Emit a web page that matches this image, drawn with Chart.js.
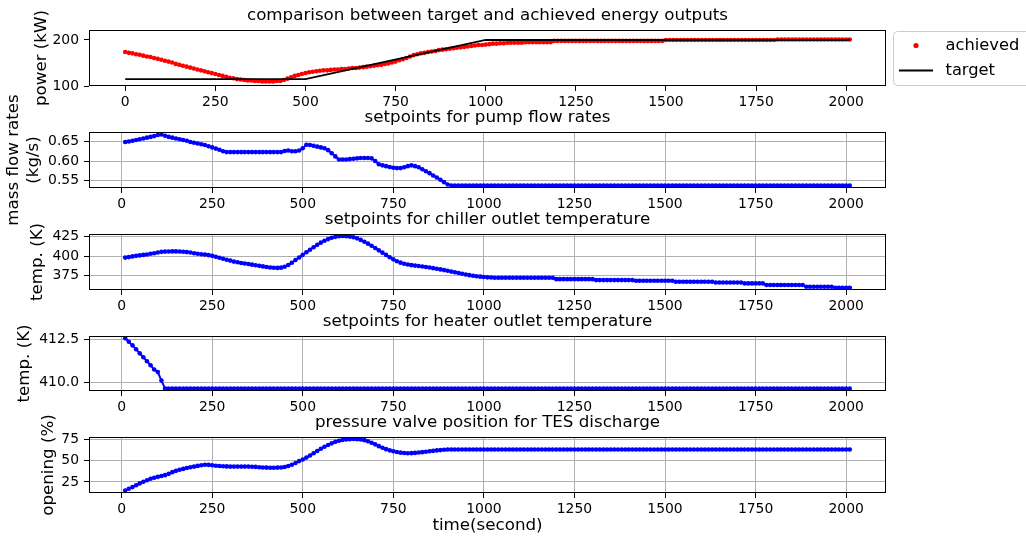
<!DOCTYPE html>
<html>
<head>
<meta charset="utf-8">
<script src="https://cdn.jsdelivr.net/npm/chart.js@4.4.0/dist/chart.umd.min.js"></script>
<style>
html,body{margin:0;padding:0;background:#ffffff;}
#wrap{position:relative;width:1026px;height:537px;overflow:hidden;background:#ffffff;}
#wrap canvas{position:absolute;left:0;top:0;}
</style>
</head>
<body>
<div id="wrap">
<canvas id="c1" width="1026" height="537"></canvas>
<canvas id="c2" width="1026" height="537"></canvas>
<canvas id="c3" width="1026" height="537"></canvas>
<canvas id="c4" width="1026" height="537"></canvas>
<canvas id="c5" width="1026" height="537"></canvas>
</div>
<script>
// ---------------- DATA ----------------
const timeAchieved = [
0,10,20,30,40,50,60,70,80,90,
100,110,120,130,140,150,160,170,180,190,
200,210,220,230,240,250,260,270,280,290,
300,310,320,330,340,350,360,370,380,390,
400,410,420,430,440,450,460,470,480,490,
500,510,520,530,540,550,560,570,580,590,
600,610,620,630,640,650,660,670,680,690,
700,710,720,730,740,750,760,770,780,790,
800,810,820,830,840,850,860,870,880,890,
900,910,920,930,940,950,960,970,980,990,
1000,1010,1020,1030,1040,1050,1060,1070,1080,1090,
1100,1110,1120,1130,1140,1150,1160,1170,1180,1190,
1200,1210,1220,1230,1240,1250,1260,1270,1280,1290,
1300,1310,1320,1330,1340,1350,1360,1370,1380,1390,
1400,1410,1420,1430,1440,1450,1460,1470,1480,1490,
1500,1510,1520,1530,1540,1550,1560,1570,1580,1590,
1600,1610,1620,1630,1640,1650,1660,1670,1680,1690,
1700,1710,1720,1730,1740,1750,1760,1770,1780,1790,
1800,1810,1820,1830,1840,1850,1860,1870,1880,1890,
1900,1910,1920,1930,1940,1950,1960,1970,1980,1990,
2000,2010];

const achievedPower = [
174,172,171,169,168,166,164,163,161,159,
157,155,153,151,148,146,144,142,140,138,
136,134,132,130,128,126,124,122,120,118,
117,115,114,113,112,112,111,111,110,110,
110,110,111,111,113,116,119,122,124,126,
128,130,131,132,133,134,134,135,136,136,
137,137,138,139,139,140,141,142,143,144,
145,146,148,149,151,153,156,158,161,164,
167,169,171,172,174,175,176,178,179,180,
181,182,183,184,185,186,187,188,189,189,
190,191,192,192,193,193,194,194,194,194,
194,195,195,195,195,195,195,195,195,198,
198,198,198,198,198,198,198,198,198,198,
198,198,198,198,198,198,198,198,198,198,
198,198,198,198,198,198,198,198,198,198,
200,200,200,200,200,200,200,200,200,200,
200,200,200,200,200,200,200,200,200,200,
200,200,200,200,200,200,200,200,200,200,
200,201,201,201,201,201,201,201,201,201,
201,201,201,201,201,201,201,201,201,201,
201,201];

const targetTime = [0, 500, 1000, 2010];
const targetPower = [115, 115, 200, 200];

const timeSetpoints = timeAchieved.slice(1);

const massFlow = [
0.649,0.650,0.652,0.654,0.656,0.658,0.660,0.662,0.664,0.667,
0.668,0.665,0.662,0.660,0.658,0.656,0.654,0.652,0.649,0.647,
0.645,0.643,0.641,0.638,0.635,0.632,0.629,0.625,0.623,0.623,
0.623,0.623,0.623,0.623,0.623,0.623,0.623,0.623,0.623,0.623,
0.623,0.623,0.623,0.623,0.626,0.627,0.625,0.625,0.627,0.633,
0.642,0.641,0.639,0.637,0.635,0.633,0.628,0.620,0.612,0.604,
0.604,0.604,0.605,0.606,0.607,0.608,0.608,0.608,0.607,0.600,
0.592,0.589,0.587,0.585,0.583,0.582,0.582,0.584,0.587,0.589,
0.587,0.584,0.579,0.574,0.569,0.563,0.558,0.552,0.546,0.540,
0.5375,0.5375,0.5375,0.5375,0.5375,0.5375,0.5375,0.5375,0.5375,0.5375,
0.5375,0.5375,0.5375,0.5375,0.5375,0.5375,0.5375,0.5375,0.5375,0.5375,
0.5375,0.5375,0.5375,0.5375,0.5375,0.5375,0.5375,0.5375,0.5375,0.5375,
0.5375,0.5375,0.5375,0.5375,0.5375,0.5375,0.5375,0.5375,0.5375,0.5375,
0.5375,0.5375,0.5375,0.5375,0.5375,0.5375,0.5375,0.5375,0.5375,0.5375,
0.5375,0.5375,0.5375,0.5375,0.5375,0.5375,0.5375,0.5375,0.5375,0.5375,
0.5375,0.5375,0.5375,0.5375,0.5375,0.5375,0.5375,0.5375,0.5375,0.5375,
0.5375,0.5375,0.5375,0.5375,0.5375,0.5375,0.5375,0.5375,0.5375,0.5375,
0.5375,0.5375,0.5375,0.5375,0.5375,0.5375,0.5375,0.5375,0.5375,0.5375,
0.5375,0.5375,0.5375,0.5375,0.5375,0.5375,0.5375,0.5375,0.5375,0.5375,
0.5375,0.5375,0.5375,0.5375,0.5375,0.5375,0.5375,0.5375,0.5375,0.5375,
0.5375];

const chillerTemp = [
398.0,398.6,399.5,400.2,400.8,401.4,402.0,402.8,403.6,404.5,
405.3,405.6,405.8,405.9,405.9,405.8,405.4,405.0,404.4,403.5,
402.9,402.3,401.8,401.2,400.2,399.1,397.8,396.5,395.2,394.2,
392.9,392.0,391.2,390.5,389.8,389.0,388.3,387.5,386.8,386.1,
385.4,385.0,384.9,385.2,386.4,388.5,391.5,395.0,398.2,401.5,
404.8,408.0,411.2,414.2,417.0,419.4,421.5,423.2,424.4,425.1,
425.4,425.2,424.7,423.8,422.5,420.5,418.2,415.7,413.0,410.2,
407.2,404.3,401.4,398.5,395.8,393.4,391.6,390.2,389.2,388.4,
387.8,387.3,386.7,386.1,385.4,384.6,383.8,383.0,382.1,381.2,
380.2,379.3,378.4,377.5,376.6,375.7,375.0,374.3,373.8,373.3,
372.9,372.6,372.4,372.3,372.3,372.3,372.3,372.3,372.3,372.3,
372.3,372.3,372.3,372.3,372.3,372.3,372.3,372.3,372.3,370.6,
370.6,370.6,370.6,370.6,370.6,370.6,370.6,370.6,370.6,370.6,
369.4,369.4,369.4,369.4,369.4,369.4,369.4,369.4,369.4,369.4,
369.4,368.5,368.5,368.5,368.5,368.5,368.5,368.5,368.5,368.5,
368.5,368.5,367.2,367.2,367.2,367.2,367.2,367.2,367.2,367.2,
367.2,367.2,367.2,366.4,366.4,366.4,366.4,366.4,366.4,366.4,
366.4,365.2,365.2,365.2,365.2,365.2,365.2,363.1,363.1,363.1,
363.1,363.1,363.1,363.1,363.1,363.1,363.1,363.1,361.0,361.0,
361.0,361.0,361.0,361.0,361.0,361.0,359.7,359.7,359.7,359.7,
359.7];

const heaterTemp = [
412.59,412.38,412.17,411.94,411.70,411.47,411.24,411.00,410.75,410.60,
410.10,409.63,409.63,409.63,409.63,409.63,409.63,409.63,409.63,409.63,
409.63,409.63,409.63,409.63,409.63,409.63,409.63,409.63,409.63,409.63,
409.63,409.63,409.63,409.63,409.63,409.63,409.63,409.63,409.63,409.63,
409.63,409.63,409.63,409.63,409.63,409.63,409.63,409.63,409.63,409.63,
409.63,409.63,409.63,409.63,409.63,409.63,409.63,409.63,409.63,409.63,
409.63,409.63,409.63,409.63,409.63,409.63,409.63,409.63,409.63,409.63,
409.63,409.63,409.63,409.63,409.63,409.63,409.63,409.63,409.63,409.63,
409.63,409.63,409.63,409.63,409.63,409.63,409.63,409.63,409.63,409.63,
409.63,409.63,409.63,409.63,409.63,409.63,409.63,409.63,409.63,409.63,
409.63,409.63,409.63,409.63,409.63,409.63,409.63,409.63,409.63,409.63,
409.63,409.63,409.63,409.63,409.63,409.63,409.63,409.63,409.63,409.63,
409.63,409.63,409.63,409.63,409.63,409.63,409.63,409.63,409.63,409.63,
409.63,409.63,409.63,409.63,409.63,409.63,409.63,409.63,409.63,409.63,
409.63,409.63,409.63,409.63,409.63,409.63,409.63,409.63,409.63,409.63,
409.63,409.63,409.63,409.63,409.63,409.63,409.63,409.63,409.63,409.63,
409.63,409.63,409.63,409.63,409.63,409.63,409.63,409.63,409.63,409.63,
409.63,409.63,409.63,409.63,409.63,409.63,409.63,409.63,409.63,409.63,
409.63,409.63,409.63,409.63,409.63,409.63,409.63,409.63,409.63,409.63,
409.63,409.63,409.63,409.63,409.63,409.63,409.63,409.63,409.63,409.63,
409.63];

const valveOpening = [
15.1,17.0,19.0,21.2,23.3,25.2,27.0,28.8,30.0,31.0,
32.0,33.0,34.5,36.5,38.0,39.3,40.3,41.3,42.2,43.0,
43.8,44.6,45.2,45.0,44.5,44.0,43.7,43.4,43.2,43.0,
43.0,43.0,43.0,43.0,43.0,42.8,42.6,42.3,42.0,41.8,
41.7,41.7,41.8,42.0,42.5,43.6,45.2,47.2,49.4,51.3,
53.5,56.0,58.6,61.3,63.8,66.2,68.3,70.2,71.9,73.2,
74.2,74.8,75.1,75.2,75.1,74.7,73.9,72.6,70.9,69.0,
66.9,65.0,63.4,62.0,60.9,60.0,59.3,58.8,58.6,58.7,
59.0,59.4,59.9,60.4,60.9,61.4,61.9,62.3,62.7,63.0,
63.0,63.0,63.0,63.0,63.0,63.0,63.0,63.0,63.0,63.0,
63.0,63.0,63.0,63.0,63.0,63.0,63.0,63.0,63.0,63.0,
63.0,63.0,63.0,63.0,63.0,63.0,63.0,63.0,63.0,63.0,
63.0,63.0,63.0,63.0,63.0,63.0,63.0,63.0,63.0,63.0,
63.0,63.0,63.0,63.0,63.0,63.0,63.0,63.0,63.0,63.0,
63.0,63.0,63.0,63.0,63.0,63.0,63.0,63.0,63.0,63.0,
63.0,63.0,63.0,63.0,63.0,63.0,63.0,63.0,63.0,63.0,
63.0,63.0,63.0,63.0,63.0,63.0,63.0,63.0,63.0,63.0,
63.0,63.0,63.0,63.0,63.0,63.0,63.0,63.0,63.0,63.0,
63.0,63.0,63.0,63.0,63.0,63.0,63.0,63.0,63.0,63.0,
63.0,63.0,63.0,63.0,63.0,63.0,63.0,63.0,63.0,63.0,
63.0];

const xTickValues = [0, 250, 500, 750, 1000, 1250, 1500, 1750, 2000];
const powerTicks = [100, 200];
const massFlowTicks = [0.55, 0.60, 0.65];
const chillerTicks = [375, 400, 425];
const heaterTicks = [410.0, 412.5];
const valveTicks = [25, 50, 75];

const titles = [
  'comparison between target and achieved energy outputs',
  'setpoints for pump flow rates',
  'setpoints for chiller outlet temperature',
  'setpoints for heater outlet temperature',
  'pressure valve position for TES discharge'
];

// ---------------- RENDERING ----------------
const FONT = "'DejaVu Sans', 'Liberation Sans', sans-serif";
const W = 1026, H = 537, PLOT_LEFT = 89, PLOT_RIGHT = 886, XH = 30;
Chart.defaults.font.family = FONT;
Chart.defaults.color = '#000';

const toXY = (xs, ys) => ys.map((y, i) => ({x: xs[i], y: y}));

const decor = {
  id: 'decor',
  afterDatasetsDraw(chart, args, o) {
    const ctx = chart.ctx, a = chart.chartArea;
    ctx.save();
    ctx.strokeStyle = '#000';
    ctx.lineWidth = 1;
    ctx.strokeRect(a.left + 0.5, a.top + 0.5, a.right - a.left - 1, a.bottom - a.top - 1);
    ctx.fillStyle = '#000';
    ctx.font = '16.7px ' + FONT;
    ctx.textAlign = 'center';
    ctx.textBaseline = 'alphabetic';
    ctx.fillText(o.title, (a.left + a.right) / 2, a.top - 10);
    // y label(s)
    const cy = (a.top + a.bottom) / 2;
    o.ylabels.forEach(l => {
      ctx.save();
      ctx.translate(l.x, cy);
      ctx.rotate(-Math.PI / 2);
      ctx.textAlign = 'center';
      ctx.textBaseline = 'middle';
      ctx.fillText(l.text, 0, 0);
      ctx.restore();
    });
    if (o.xlabel) {
      ctx.textAlign = 'center';
      ctx.textBaseline = 'alphabetic';
      ctx.fillText(o.xlabel, (a.left + a.right) / 2, 530);
    }
    if (o.legend) {
      const ds = chart.data.datasets;
      const bx = 893.5, by = 31.5, bw = 160, bh = 54, r = 4;
      ctx.beginPath();
      ctx.moveTo(bx + r, by);
      ctx.lineTo(bx + bw - r, by);
      ctx.arcTo(bx + bw, by, bx + bw, by + r, r);
      ctx.lineTo(bx + bw, by + bh - r);
      ctx.arcTo(bx + bw, by + bh, bx + bw - r, by + bh, r);
      ctx.lineTo(bx + r, by + bh);
      ctx.arcTo(bx, by + bh, bx, by + bh - r, r);
      ctx.lineTo(bx, by + r);
      ctx.arcTo(bx, by, bx + r, by, r);
      ctx.closePath();
      ctx.fillStyle = 'rgba(255,255,255,0.8)';
      ctx.fill();
      ctx.strokeStyle = '#cccccc';
      ctx.lineWidth = 1;
      ctx.stroke();
      const achieved = ds.find(d => d.label === 'achieved');
      const target = ds.find(d => d.label === 'target');
      // achieved marker
      ctx.fillStyle = achieved.pointBackgroundColor;
      ctx.beginPath();
      ctx.arc(916, 45.5, 2.6, 0, Math.PI * 2);
      ctx.fill();
      // target line
      ctx.strokeStyle = target.borderColor;
      ctx.lineWidth = target.borderWidth;
      ctx.beginPath();
      ctx.moveTo(899, 70.5);
      ctx.lineTo(933, 70.5);
      ctx.stroke();
      ctx.fillStyle = '#000';
      ctx.font = '16.3px ' + FONT;
      ctx.textAlign = 'left';
      ctx.textBaseline = 'middle';
      ctx.fillText(achieved.label, 945.5, 45.5);
      ctx.fillText(target.label, 945.5, 70.5);
    }
    ctx.restore();
  }
};

function makePanel(id, p) {
  return new Chart(document.getElementById(id), {
    type: 'line',
    data: {datasets: p.datasets},
    options: {
      responsive: false,
      animation: false,
      devicePixelRatio: 1,
      events: [],
      layout: {padding: {left: 0, right: W - PLOT_RIGHT, top: p.top, bottom: H - p.bottom - XH}},
      plugins: {
        legend: {display: false},
        tooltip: {enabled: false},
        decor: {title: p.title, ylabels: p.ylabels, xlabel: p.xlabel, legend: p.legend}
      },
      scales: {
        x: {
          type: 'linear', min: p.xmin, max: p.xmax,
          afterFit: s => { s.height = XH; },
          afterBuildTicks: s => { s.ticks = xTickValues.map(v => ({value: v})); },
          ticks: {font: {size: 13.9}, color: '#000', padding: 3, maxRotation: 0, autoSkip: false,
                  callback: v => String(v)},
          grid: {display: true, drawOnChartArea: p.grid, color: '#b0b0b0', lineWidth: 1,
                 tickLength: 5, tickColor: '#000', tickWidth: 1},
          border: {display: false}
        },
        y: {
          type: 'linear', min: p.ymin, max: p.ymax,
          afterFit: s => { s.width = PLOT_LEFT; },
          afterBuildTicks: s => { s.ticks = p.yticks.map(v => ({value: v})); },
          ticks: {font: {size: 13.9}, color: '#000', padding: 5, autoSkip: false,
                  callback: v => v.toFixed(p.dec)},
          grid: {display: true, drawOnChartArea: p.grid, color: '#b0b0b0', lineWidth: 1,
                 tickLength: 5, tickColor: '#000', tickWidth: 1},
          border: {display: false}
        }
      }
    },
    plugins: [decor]
  });
}

function blueSeries(label, values) {
  return {
    label: label,
    data: toXY(timeSetpoints, values),
    borderColor: '#0000ff', borderWidth: 2,
    pointRadius: 2.3, pointBackgroundColor: '#0000ff', pointBorderWidth: 0,
    pointHoverRadius: 0, tension: 0
  };
}

makePanel('c1', {
  top: 30, bottom: 86, xmin: -100.5, xmax: 2110.5, ymin: 100, ymax: 221.7,
  yticks: powerTicks, dec: 0, grid: false, title: titles[0], legend: true,
  ylabels: [{text: 'power (kW)', x: 42}],
  datasets: [
    {label: 'target', data: toXY(targetTime, targetPower), borderColor: '#000000', borderWidth: 1.8,
     pointRadius: 0, pointHoverRadius: 0, tension: 0},
    {label: 'achieved', data: toXY(timeAchieved, achievedPower), showLine: false,
     pointRadius: 2.3, pointBackgroundColor: '#ff0000', pointBorderColor: '#ff0000',
     pointBorderWidth: 0, pointHoverRadius: 0, borderColor: '#ff0000'}
  ]
});

makePanel('c2', {
  top: 132, bottom: 188, xmin: -90, xmax: 2110, ymin: 0.531, ymax: 0.6745,
  yticks: massFlowTicks, dec: 2, grid: true, title: titles[1],
  ylabels: [{text: 'mass flow rates', x: 14}, {text: '(kg/s)', x: 34}],
  datasets: [blueSeries('pump flow', massFlow)]
});

makePanel('c3', {
  top: 234, bottom: 290, xmin: -90, xmax: 2110, ymin: 356.8, ymax: 428,
  yticks: chillerTicks, dec: 0, grid: true, title: titles[2],
  ylabels: [{text: 'temp. (K)', x: 38}],
  datasets: [blueSeries('chiller', chillerTemp)]
});

makePanel('c4', {
  top: 336, bottom: 391, xmin: -90, xmax: 2110, ymin: 409.49, ymax: 412.72,
  yticks: heaterTicks, dec: 1, grid: true, title: titles[3],
  ylabels: [{text: 'temp. (K)', x: 25}],
  datasets: [blueSeries('heater', heaterTemp)]
});

makePanel('c5', {
  top: 437, bottom: 493, xmin: -90, xmax: 2110, ymin: 12.1, ymax: 77.6,
  yticks: valveTicks, dec: 0, grid: true, title: titles[4], xlabel: 'time(second)',
  ylabels: [{text: 'opening (%)', x: 49}],
  datasets: [blueSeries('valve', valveOpening)]
});
</script>
</body>
</html>
